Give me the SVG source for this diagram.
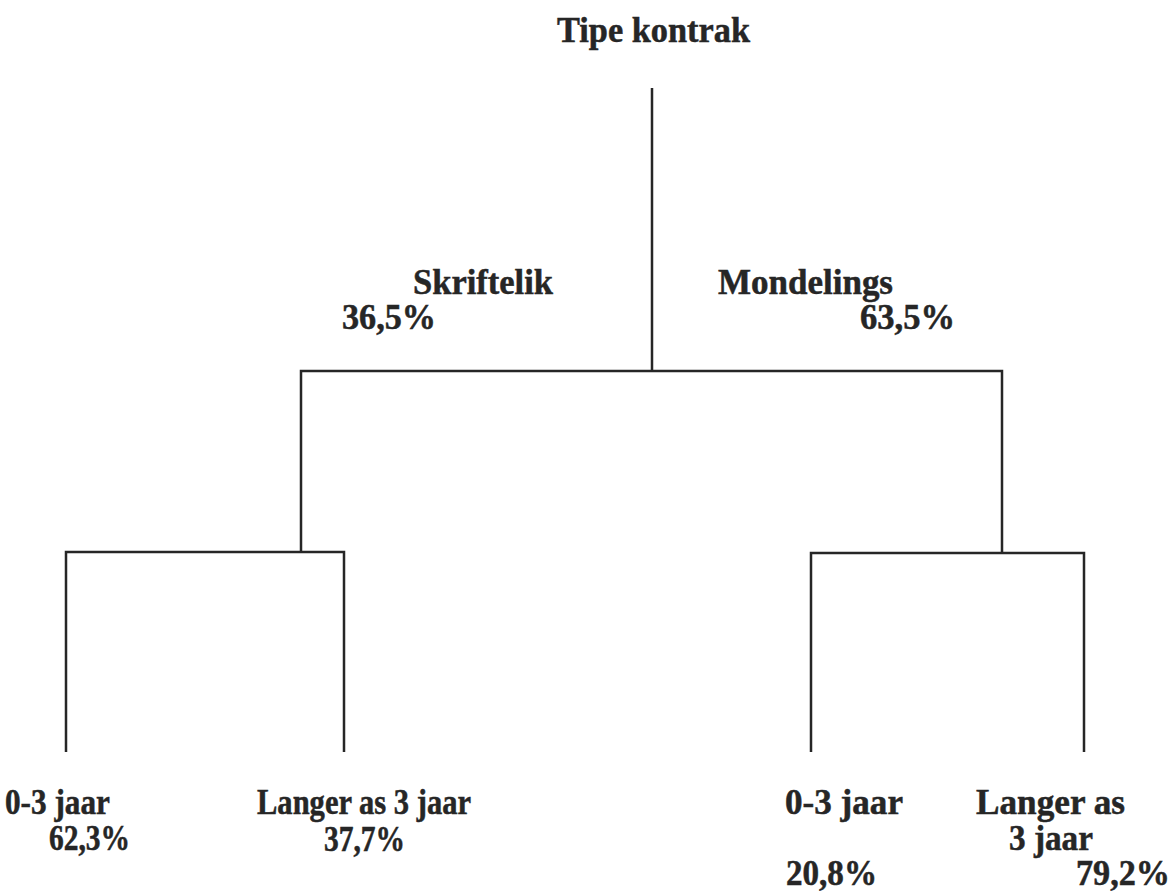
<svg xmlns="http://www.w3.org/2000/svg" width="1176" height="891" viewBox="0 0 1176 891">
<style>
text{font-family:"Liberation Serif","Times New Roman",serif;font-weight:bold;font-size:35px;fill:#262626;stroke:#262626;stroke-width:0.5}
.ln{stroke:#262626;stroke-width:2.5;fill:none}
</style>
<rect width="1176" height="891" fill="#ffffff"/>
<g id="connectors">
<path class="ln" d="M652,88 V371"/>
<path class="ln" d="M301,552 V371 H1002 V552"/>
<path class="ln" d="M66,752 V552 H344 V752"/>
<path class="ln" d="M811,752 V553 H1084 V752"/>
</g>
<g id="root"><text x="557" y="42" textLength="193" lengthAdjust="spacingAndGlyphs">Tipe kontrak</text></g>
<g id="skriftelik"><text x="413" y="294" textLength="140" lengthAdjust="spacingAndGlyphs">Skriftelik</text><text x="342" y="329" textLength="94" lengthAdjust="spacingAndGlyphs">36,5%</text></g>
<g id="mondelings"><text x="718" y="294" textLength="175" lengthAdjust="spacingAndGlyphs">Mondelings</text><text x="860" y="329" textLength="95" lengthAdjust="spacingAndGlyphs">63,5%</text></g>
<g id="s-0-3"><text x="5" y="814" textLength="105" lengthAdjust="spacingAndGlyphs">0-3 jaar</text><text x="49" y="850" textLength="81" lengthAdjust="spacingAndGlyphs">62,3%</text></g>
<g id="s-langer"><text x="257" y="814" textLength="214" lengthAdjust="spacingAndGlyphs">Langer as 3 jaar</text><text x="324" y="851" textLength="81" lengthAdjust="spacingAndGlyphs">37,7%</text></g>
<g id="m-0-3"><text x="785" y="814" textLength="118" lengthAdjust="spacingAndGlyphs">0-3 jaar</text><text x="786" y="885" textLength="91" lengthAdjust="spacingAndGlyphs">20,8%</text></g>
<g id="m-langer"><text x="976" y="814" textLength="149" lengthAdjust="spacingAndGlyphs">Langer as</text><text x="1009" y="850" textLength="84" lengthAdjust="spacingAndGlyphs">3 jaar</text><text x="1076" y="885" textLength="94" lengthAdjust="spacingAndGlyphs">79,2%</text></g>
</svg>
